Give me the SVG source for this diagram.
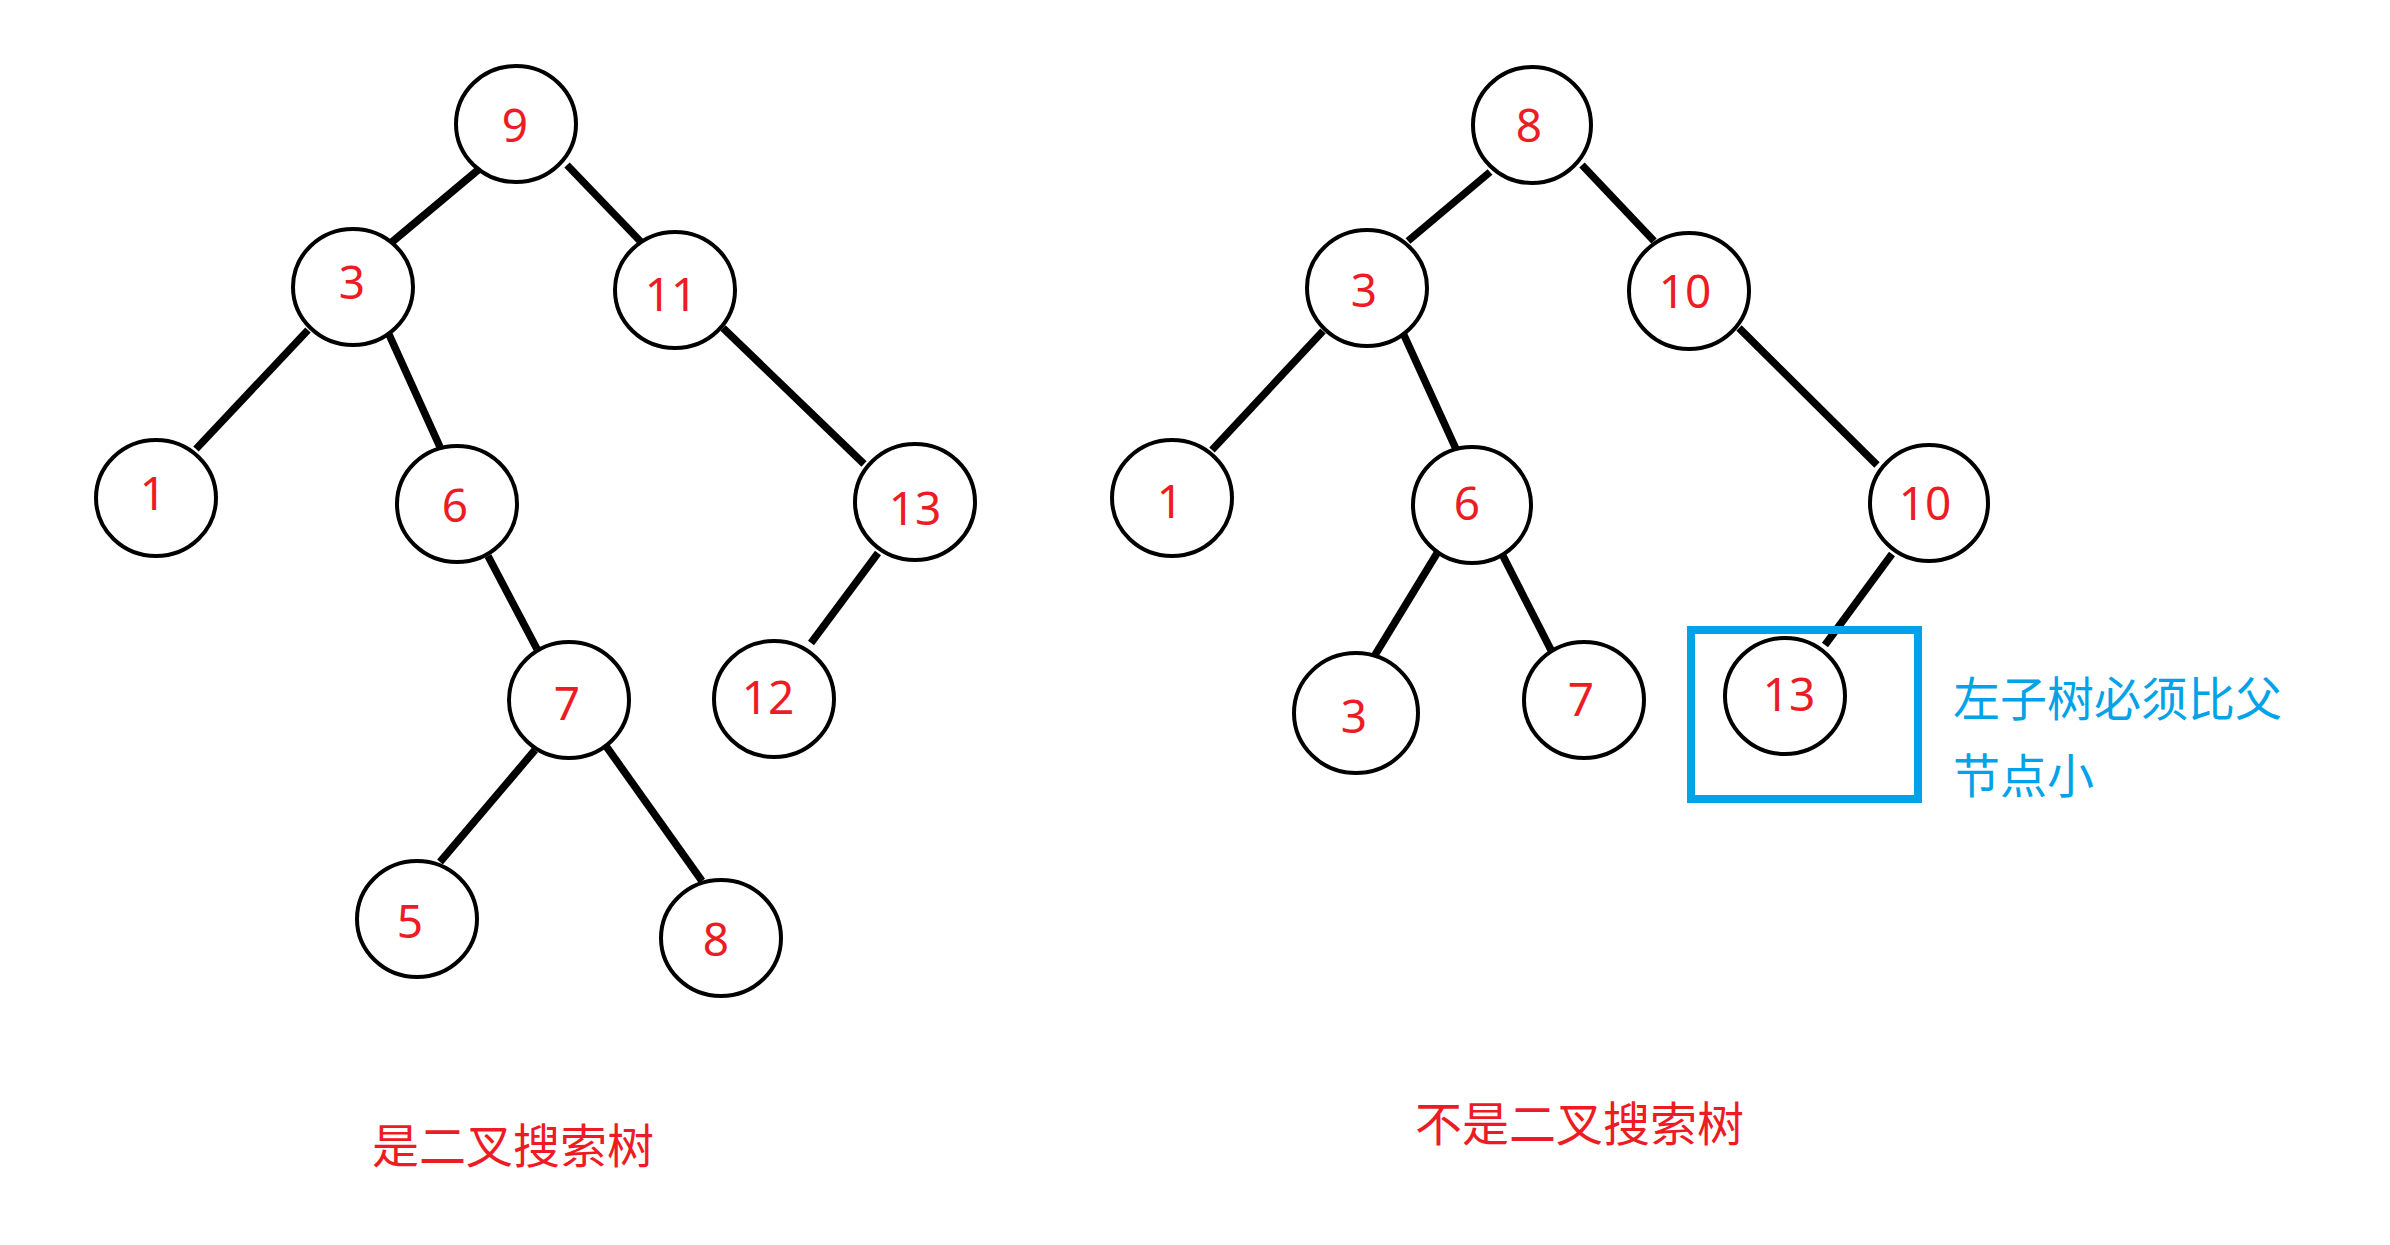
<svg xmlns="http://www.w3.org/2000/svg" width="2390" height="1245" viewBox="0 0 2390 1245">
<style>
.n{fill:#fff;stroke:#000;stroke-width:4}
.t{font-family:"Noto Sans","Open Sans",sans-serif;font-size:46px;fill:#ed1c24;text-anchor:middle}
.e{stroke:#000;stroke-width:7.5;stroke-linecap:butt;fill:none}
.cn{font-family:"Noto Sans CJK SC",sans-serif;font-size:47px}
</style>
<rect width="2390" height="1245" fill="#fff"/>
<g id="connectors">
<line class="e" x1="478" y1="170" x2="392" y2="242"/>
<line class="e" x1="567" y1="165" x2="641" y2="242"/>
<line class="e" x1="308" y1="330" x2="196" y2="449"/>
<line class="e" x1="387" y1="330" x2="440" y2="447"/>
<line class="e" x1="723" y1="328" x2="864" y2="464"/>
<line class="e" x1="488" y1="556" x2="537" y2="649"/>
<line class="e" x1="878" y1="553" x2="811" y2="643"/>
<line class="e" x1="535" y1="750" x2="440" y2="862"/>
<line class="e" x1="606" y1="746" x2="702" y2="881"/>
<line class="e" x1="1490" y1="172" x2="1408" y2="241"/>
<line class="e" x1="1582" y1="165" x2="1654" y2="241"/>
<line class="e" x1="1323" y1="331" x2="1212" y2="450"/>
<line class="e" x1="1403" y1="333" x2="1456" y2="449"/>
<line class="e" x1="1739" y1="328" x2="1877" y2="465"/>
<line class="e" x1="1439" y1="550" x2="1375" y2="655"/>
<line class="e" x1="1503" y1="556" x2="1551" y2="650"/>
<line class="e" x1="1892" y1="554" x2="1825" y2="645"/>
</g>
<g id="L9"><ellipse class="n" cx="516" cy="124" rx="60" ry="58"/><text class="t" x="515" y="142">9</text></g>
<g id="L3"><ellipse class="n" cx="353" cy="287" rx="60" ry="58"/><text class="t" x="352" y="299">3</text></g>
<g id="L11"><ellipse class="n" cx="675" cy="290" rx="60" ry="58"/><text class="t" x="671" y="311">11</text></g>
<g id="L1"><ellipse class="n" cx="156" cy="498" rx="60" ry="58"/><text class="t" x="153" y="510">1</text></g>
<g id="L6"><ellipse class="n" cx="457" cy="504" rx="60" ry="58"/><text class="t" x="455" y="522">6</text></g>
<g id="L13"><ellipse class="n" cx="915" cy="502" rx="60" ry="58"/><text class="t" x="915" y="525">13</text></g>
<g id="L7"><ellipse class="n" cx="569" cy="700" rx="60" ry="58"/><text class="t" x="567" y="720">7</text></g>
<g id="L12"><ellipse class="n" cx="774" cy="699" rx="60" ry="58"/><text class="t" x="768" y="714">12</text></g>
<g id="L5"><ellipse class="n" cx="417" cy="919" rx="60" ry="58"/><text class="t" x="410" y="938">5</text></g>
<g id="L8"><ellipse class="n" cx="721" cy="938" rx="60" ry="58"/><text class="t" x="716" y="956">8</text></g>
<g id="R8"><ellipse class="n" cx="1532" cy="125" rx="59" ry="58"/><text class="t" x="1529" y="142">8</text></g>
<g id="R3"><ellipse class="n" cx="1367" cy="288" rx="60" ry="58"/><text class="t" x="1364" y="307">3</text></g>
<g id="R10a"><ellipse class="n" cx="1689" cy="291" rx="60" ry="58"/><text class="t" x="1685" y="308">10</text></g>
<g id="R1"><ellipse class="n" cx="1172" cy="498" rx="60" ry="58"/><text class="t" x="1170" y="518">1</text></g>
<g id="R6"><ellipse class="n" cx="1472" cy="505" rx="59" ry="58"/><text class="t" x="1467" y="520">6</text></g>
<g id="R10b"><ellipse class="n" cx="1929" cy="503" rx="59" ry="58"/><text class="t" x="1925" y="520">10</text></g>
<g id="R3b"><ellipse class="n" cx="1356" cy="713" rx="62" ry="60"/><text class="t" x="1354" y="733">3</text></g>
<g id="R7"><ellipse class="n" cx="1584" cy="700" rx="60" ry="58"/><text class="t" x="1581" y="716">7</text></g>
<g id="R13"><ellipse class="n" cx="1785" cy="696" rx="60" ry="58"/><text class="t" x="1789" y="711">13</text></g>
<rect x="1691" y="630" width="227" height="169" fill="none" stroke="#00a2e8" stroke-width="8"/>
<text class="cn" fill="#00a2e8" x="1953" y="716">左子树必须比父</text>
<text class="cn" fill="#00a2e8" x="1953" y="793">节点小</text>
<text class="cn" fill="#ed1c24" x="372" y="1163">是二叉搜索树</text>
<text class="cn" fill="#ed1c24" x="1415" y="1141">不是二叉搜索树</text>
</svg>
